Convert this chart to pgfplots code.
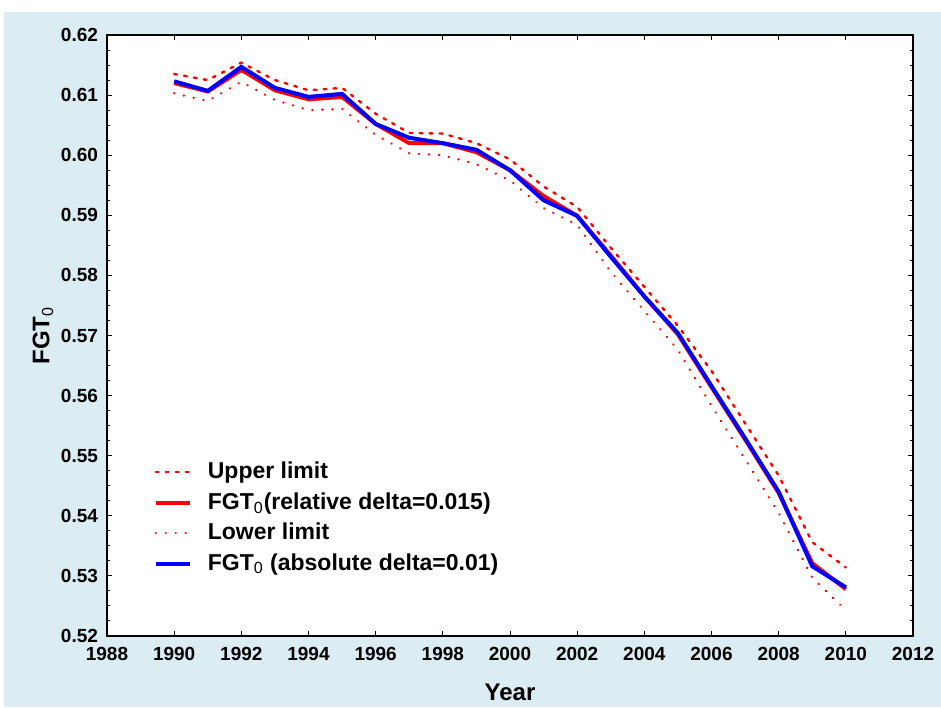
\documentclass[border=0pt]{standalone}
\usepackage{pgfplots}
\pgfplotsset{compat=1.18}
\usepackage{pgfplotstable}
\usepackage{fontspec}
\setmainfont{Liberation Sans}
\definecolor{bgblue}{RGB}{219,237,243}
\pgfplotstableread{
year upper rel lower abs
1990 0.6135 0.6120 0.6103 0.6123
1991 0.6125 0.6106 0.6090 0.6107
1992 0.6154 0.6142 0.6122 0.6147
1993 0.6125 0.6108 0.6092 0.6112
1994 0.6108 0.6093 0.6075 0.6097
1995 0.6112 0.6097 0.6077 0.6102
1996 0.6069 0.6052 0.6034 0.6052
1997 0.6037 0.6020 0.6003 0.6029
1998 0.6036 0.6020 0.6000 0.6020
1999 0.6020 0.6005 0.5985 0.6009
2000 0.5993 0.5975 0.5958 0.5975
2001 0.5948 0.5932 0.5912 0.5925
2002 0.5914 0.5899 0.5884 0.5899
2003 0.5846 0.5833 0.5806 0.5831
2004 0.5781 0.5765 0.5741 0.5765
2005 0.5716 0.5702 0.5676 0.5704
2006 0.5641 0.5614 0.5583 0.5616
2007 0.5554 0.5527 0.5494 0.5529
2008 0.5467 0.5438 0.5405 0.5440
2009 0.5356 0.5321 0.5297 0.5316
2010 0.5314 0.5278 0.5243 0.5281
}\datatable
\begin{document}
\begin{tikzpicture}
\useasboundingbox (0,0) rectangle (470.5pt,353.5pt);
\fill[bgblue] (2pt,0) rectangle (470.5pt,347.5pt);
\begin{axis}[
  at={(53.5pt,35.5pt)}, anchor=south west,
  scale only axis, width=403pt, height=300.5pt,
  xmin=1988, xmax=2012, ymin=0.52, ymax=0.62,
  xtick={1988,1990,...,2012}, minor x tick num=1,
  ytick={0.52,0.53,...,0.621}, minor y tick num=3,
  tick align=inside,
  major tick length=2.6pt, minor tick length=1.5pt,
  axis line style={line width=0.8pt},
  every tick/.style={black, line width=0.5pt},
  axis background/.style={fill=white},
  /pgf/number format/assume math mode=true,
  x tick label style={/pgf/number format/1000 sep={}, font=\bfseries\fontsize{9.5}{11}\selectfont, yshift=-2pt},
  y tick label style={/pgf/number format/fixed, /pgf/number format/fixed zerofill, /pgf/number format/precision=2, font=\bfseries\fontsize{9.5}{11}\selectfont, xshift=-1pt},
  xlabel={\bfseries\fontsize{12}{14}\selectfont Year},
  ylabel={\bfseries\fontsize{12}{14}\selectfont FGT\textsubscript{\mdseries 0}},
  xlabel style={yshift=-5pt},
  ylabel style={yshift=-3pt},
  legend style={at={(0.05,0.303)}, anchor=north west, draw=none, fill=none,
    font=\bfseries\fontsize{11.5}{13}\selectfont, row sep=1.4pt, cells={anchor=west},
    nodes={inner xsep=5pt}, /tikz/every odd column/.style={column sep=3pt}},
]
\addplot[red, line width=1.2pt, line cap=round, dash pattern=on 1.4pt off 3.6pt] table[x=year,y=upper] {\datatable};
\addlegendentry{Upper limit}
\addplot[red, line width=2pt] table[x=year,y=rel] {\datatable};
\addlegendentry{FGT\textsubscript{\mdseries 0}(relative delta=0.015)}
\addplot[red, line width=1.3pt, line cap=round, dash pattern=on 0.01pt off 5pt] table[x=year,y=lower] {\datatable};
\addlegendentry{Lower limit}
\addplot[blue, line width=2pt] table[x=year,y=abs] {\datatable};
\addlegendentry{FGT\textsubscript{\mdseries 0} (absolute delta=0.01)}
\end{axis}
\end{tikzpicture}
\end{document}
